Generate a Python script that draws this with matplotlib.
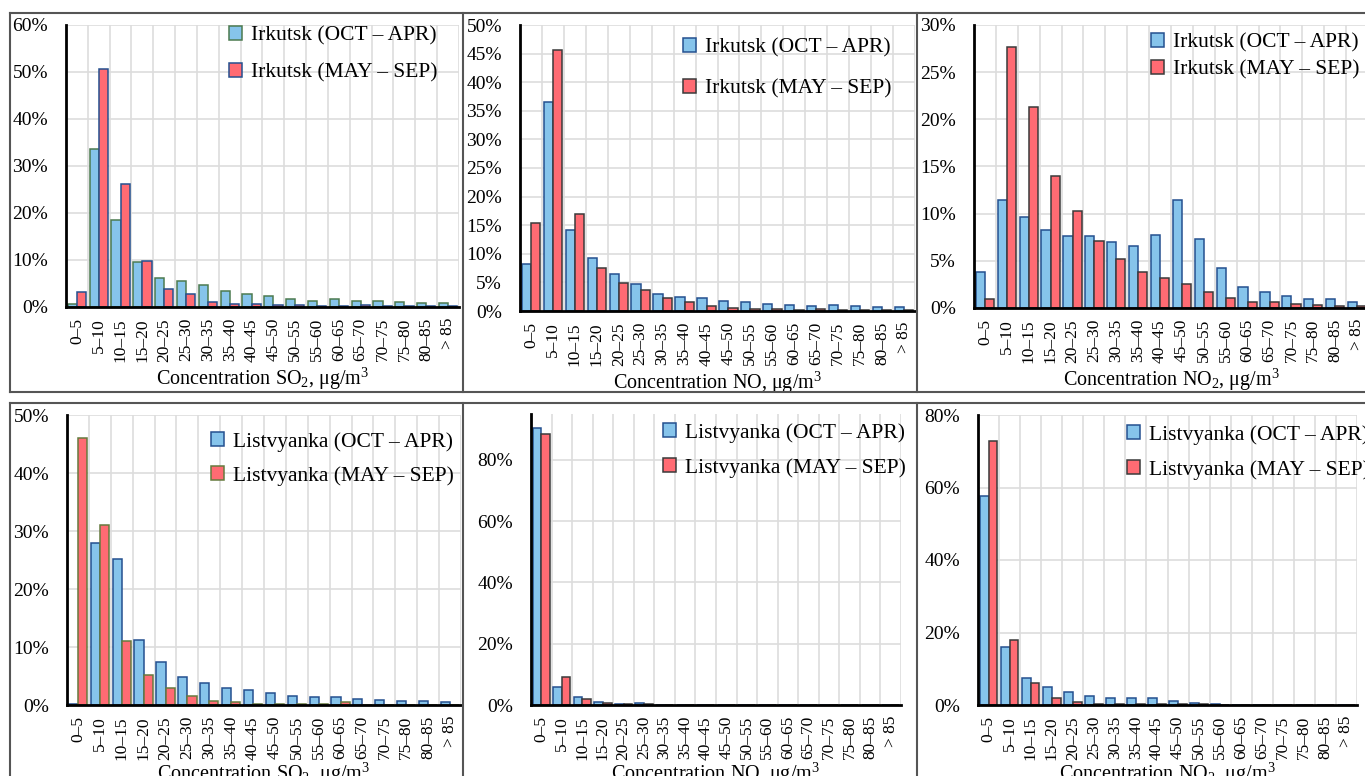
import numpy as np
import matplotlib
matplotlib.use("Agg")
import matplotlib.pyplot as plt
import matplotlib.ticker as mticker
from matplotlib.lines import Line2D

plt.rcParams['font.family'] = ['Liberation Serif', 'DejaVu Serif']
plt.rcParams['mathtext.fontset'] = 'custom'
plt.rcParams['mathtext.rm'] = 'Liberation Serif'
plt.rcParams['mathtext.it'] = 'Liberation Serif:italic'

bins = ['0–5', '5–10', '10–15', '15–20', '20–25', '25–30', '30–35', '35–40', '40–45',
        '45–50', '50–55', '55–60', '60–65', '65–70', '70–75', '75–80', '80–85', '> 85']

# frequency of concentrations, % of all measurements
irk_so2_cold = [0.6, 33.6, 18.5, 9.6, 6.2, 5.5, 4.6, 3.4, 2.85, 2.4, 1.8, 1.35, 1.6, 1.35, 1.35, 1.1, 0.8, 0.8]
irk_so2_warm = [3.2, 50.6, 26.2, 9.8, 3.8, 2.85, 1.0, 0.7, 0.55, 0.4, 0.35, 0.15, 0.15, 0.35, 0.15, 0.15, 0.15, 0.15]

irk_no_cold = [8.3, 36.6, 14.1, 9.3, 6.4, 4.7, 3.0, 2.4, 2.2, 1.7, 1.5, 1.3, 1.05, 0.9, 1.05, 0.9, 0.7, 0.7]
irk_no_warm = [15.4, 45.6, 16.9, 7.5, 4.9, 3.6, 2.2, 1.5, 0.85, 0.5, 0.35, 0.35, 0.15, 0.3, 0.15, 0.15, 0.15, 0.15]

irk_no2_cold = [3.8, 11.4, 9.6, 8.3, 7.6, 7.6, 7.0, 6.6, 7.7, 11.5, 7.3, 4.2, 2.2, 1.65, 1.3, 0.95, 0.95, 0.65]
irk_no2_warm = [0.95, 27.7, 21.3, 14.0, 10.3, 7.1, 5.15, 3.8, 3.2, 2.5, 1.65, 1.05, 0.65, 0.65, 0.4, 0.35, 0.25, 0.25]

lis_so2_cold = [0.2, 27.9, 25.1, 11.2, 7.4, 4.9, 3.8, 2.9, 2.6, 2.1, 1.55, 1.4, 1.4, 1.05, 0.9, 0.75, 0.75, 0.55]
lis_so2_warm = [46.1, 31.0, 11.0, 5.2, 3.0, 1.55, 0.7, 0.5, 0.2, 0.2, 0.2, 0.2, 0.45, 0.05, 0.0, 0.0, 0.0, 0.0]

lis_no_cold = [90.4, 5.8, 2.7, 0.9, 0.45, 0.5, 0.05, 0.05, 0.05, 0.0, 0.0, 0.0, 0.0, 0.0, 0.0, 0.0, 0.0, 0.0]
lis_no_warm = [88.6, 9.0, 2.1, 0.55, 0.45, 0.2, 0.0, 0.0, 0.0, 0.0, 0.0, 0.0, 0.0, 0.0, 0.0, 0.0, 0.0, 0.0]

lis_no2_cold = [57.7, 16.1, 7.5, 4.9, 3.6, 2.5, 1.9, 1.9, 1.9, 1.2, 0.65, 0.35, 0.1, 0.05, 0.0, 0.0, 0.0, 0.0]
lis_no2_warm = [72.9, 17.9, 6.0, 1.9, 0.9, 0.35, 0.35, 0.35, 0.3, 0.3, 0.2, 0.0, 0.0, 0.0, 0.0, 0.0, 0.0, 0.0]

BLUE = '#86C4EB'
RED = '#FF6B73'
DKBLUE = '#24508F'
DKGREEN = '#4C7A50'
OLIVE = '#667A3E'
DARK = '#3A3A3A'

W, H = 1365, 776
fig = plt.figure(figsize=(W / 100, H / 100), dpi=100)


def px_axes(x0, x1, ytop, ybot):
    return fig.add_axes([x0 / W, 1 - ybot / H, (x1 - x0) / W, (ybot - ytop) / H])


panels = [
    # cold, warm, station, gas label, ymax, ystep, axes box, edges, legend (x, y, spacing), xlabel pad
    (irk_so2_cold, irk_so2_warm, 'Irkutsk', r'SO$_2$', 60, 10, (66, 459, 25, 307), (DKGREEN, DKBLUE), (229, 26, 0.82), 3),
    (irk_no_cold, irk_no_warm, 'Irkutsk', 'NO', 50, 5, (520, 915, 25, 311), (DKBLUE, DARK), (683, 38, 0.98), 3),
    (irk_no2_cold, irk_no2_warm, 'Irkutsk', r'NO$_2$', 30, 5, (974, 1368, 25, 308), (DKBLUE, DARK), (1151, 33, 0.33), 3),
    (lis_so2_cold, lis_so2_warm, 'Listvyanka', r'SO$_2$', 50, 10, (67, 461, 415, 705), (DKBLUE, OLIVE), (211, 432, 0.66), 1),
    (lis_no_cold, lis_no_warm, 'Listvyanka', 'NO', 95, 20, (531, 901, 414, 705), (DKBLUE, DARK), (663, 423, 0.7), 1),
    (lis_no2_cold, lis_no2_warm, 'Listvyanka', r'NO$_2$', 80, 20, (978, 1357, 415, 705), (DKBLUE, DARK), (1127, 425, 0.72), 1),
]

x = np.arange(len(bins))
bw = 0.42

for cold, warm, station, gas, ymax, ystep, box, edges, leg, lpad in panels:
    ax = px_axes(*box)
    ax.bar(x - bw / 2, cold, bw, color=BLUE, edgecolor=edges[0], linewidth=1.1,
           label=f'{station} (OCT – APR)', zorder=3)
    ax.bar(x + bw / 2, warm, bw, color=RED, edgecolor=edges[1], linewidth=1.1,
           label=f'{station} (MAY – SEP)', zorder=3)
    ax.set_xlim(-0.5, len(bins) - 0.5)
    ax.set_ylim(0, ymax)
    ax.set_yticks(np.arange(0, ymax + 0.1, ystep))
    ax.yaxis.set_major_formatter(mticker.PercentFormatter(decimals=0))
    ax.set_xticks(x)
    ax.set_xticklabels(bins, rotation=90, fontsize=12.5)
    ax.set_xticks(np.arange(-0.5, len(bins)), minor=True)
    ax.tick_params(axis='y', length=0, pad=13, labelsize=14)
    ax.tick_params(axis='x', which='both', length=0, pad=8)
    ax.grid(axis='y', color='#DDDDDD', linewidth=1.2, zorder=0)
    ax.grid(axis='x', which='minor', color='#DDDDDD', linewidth=1.2, zorder=0)
    for s in ['top', 'right']:
        ax.spines[s].set_visible(False)
    for s in ['left', 'bottom']:
        ax.spines[s].set_linewidth(2)
        ax.spines[s].set_zorder(4)
    ax.set_xlabel(f'Concentration {gas}, μg/m$^3$', fontsize=14.5, labelpad=lpad)
    lx, ly, lsp = leg
    ax.legend(loc='upper left', bbox_to_anchor=(lx / W, 1 - ly / H), bbox_transform=fig.transFigure,
              frameon=False, fontsize=15.5, handlelength=0.62, handleheight=0.62,
              handletextpad=0.42, labelspacing=lsp, borderpad=0, borderaxespad=0)

# panel frames
frame = dict(color='#555555', linewidth=1.5, transform=fig.transFigure)
for y0, y1 in [(13, 392), (403, 790)]:
    fig.add_artist(Line2D([10 / W, 10 / W], [1 - y0 / H, 1 - y1 / H], **frame))
    fig.add_artist(Line2D([463 / W, 463 / W], [1 - y0 / H, 1 - y1 / H], **frame))
    fig.add_artist(Line2D([917 / W, 917 / W], [1 - y0 / H, 1 - y1 / H], **frame))
    fig.add_artist(Line2D([10 / W, 1], [1 - y0 / H, 1 - y0 / H], **frame))
fig.add_artist(Line2D([10 / W, 1], [1 - 392 / H, 1 - 392 / H], **frame))

fig.savefig('out.png', dpi=100)
